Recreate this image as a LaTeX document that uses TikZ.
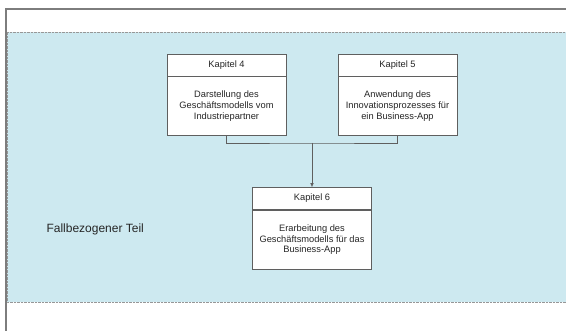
\documentclass[tikz,border=0pt]{standalone}
\usepackage{fontspec}
\setmainfont{Liberation Sans}
\usetikzlibrary{positioning}
\usetikzlibrary{arrows.meta}

\definecolor{paneblue}{RGB}{205,233,240}
\definecolor{framegray}{RGB}{125,125,125}
\definecolor{boxgray}{RGB}{95,95,95}

\begin{document}
\begin{tikzpicture}[x=1pt, y=-1pt,
  kaphead/.style={draw=boxgray, fill=white, line width=0.6pt, minimum width=119pt, minimum height=22pt, inner sep=0pt, text=black!85, font=\fontsize{9.3}{10.7}\selectfont},
  kapbody/.style={draw=boxgray, fill=white, line width=0.6pt, minimum width=119pt, minimum height=59pt, inner sep=0pt, align=center, text=black!85, font=\fontsize{9.3}{10.7}\selectfont},
  ]
  \useasboundingbox (0,0) rectangle (566,331);

  % outer frame
  \draw[framegray, line width=1.2pt] (6,331) -- (6,9) -- (566,9);

  % fallbezogener Teil
  \fill[paneblue] (7,32) rectangle (566,302);
  \draw[framegray!80, densely dotted] (566,32) -- (7,32) -- (7,302) -- (566,302);
  \node[anchor=west, text=black!85, font=\fontsize{12}{14}\selectfont] (teil) at (43,229) {Fallbezogener Teil};

  \node[kaphead] (kap4) at (226.5,65) {Kapitel 4};
  \node[kapbody, below=0pt of kap4] (kap4text) {Darstellung des\\Geschäftsmodells vom\\Industriepartner};

  \node[kaphead] (kap5) at (397.5,65) {Kapitel 5};
  \node[kapbody, below=0pt of kap5] (kap5text) {Anwendung des\\Innovationsprozesses für\\ein Business-App};

  \node[kaphead] (kap6) at (312,198.5) {Kapitel 6};
  \node[kapbody, below=0pt of kap6] (kap6text) {Erarbeitung des\\Geschäftsmodells für das\\Business-App};

  % connectors
  \coordinate (fork) at (312,143);
  \draw[boxgray, line width=0.6pt] (kap4text.south) |- (fork) -| (kap5text.south);
  \draw[boxgray, line width=0.6pt, -{Latex[length=4pt, width=3.5pt]}] (fork) -- (kap6.north);
\end{tikzpicture}
\end{document}
